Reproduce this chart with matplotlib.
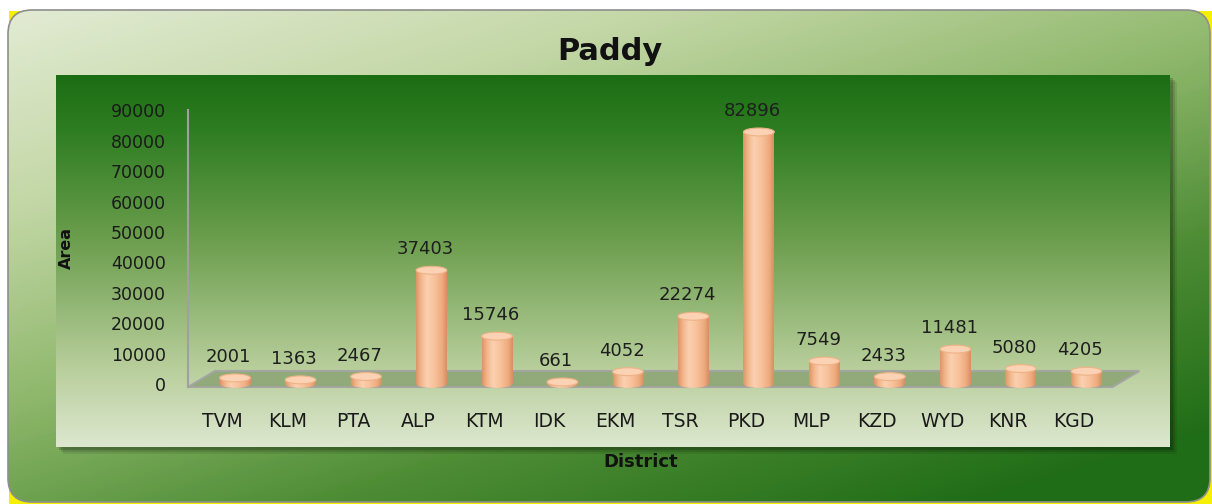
import numpy as np
import matplotlib
matplotlib.use("Agg")
import matplotlib.pyplot as plt
from matplotlib.patches import Rectangle, FancyBboxPatch, Ellipse, Polygon
from matplotlib.colors import LinearSegmentedColormap
from matplotlib.transforms import ScaledTranslation

# --- data ---
districts = ["TVM", "KLM", "PTA", "ALP", "KTM", "IDK", "EKM",
             "TSR", "PKD", "MLP", "KZD", "WYD", "KNR", "KGD"]
area = [2001, 1363, 2467, 37403, 15746, 661, 4052,
        22274, 82896, 7549, 2433, 11481, 5080, 4205]
yticks = [0, 10000, 20000, 30000, 40000, 50000, 60000, 70000, 80000, 90000]

plt.rcParams["font.family"] = ["DejaVu Sans"]

W, H = 1212, 504
fig = plt.figure(figsize=(W / 100, H / 100), dpi=100, facecolor="white")

# --- background (pixel coords, y down) ---
bg = fig.add_axes([0, 0, 1, 1])
bg.set_xlim(0, W)
bg.set_ylim(H, 0)
bg.axis("off")

bg.add_patch(Rectangle((8.5, 10.5), W - 8.5, H - 10.5, color="#f5f000", lw=0, zorder=0))
frame = FancyBboxPatch((8, 10), 1202, 492, boxstyle="round,pad=0,rounding_size=24",
                       facecolor="none", edgecolor="#8e8e8e", lw=1.2, zorder=2)
bg.add_patch(frame)

outer_cmap = LinearSegmentedColormap.from_list(
    "outer", ["#e2ebd3", "#c3d7a6", "#8fb86c", "#4d8c34", "#206d17"])
gx, gy = np.meshgrid(np.linspace(0, 1, 300), np.linspace(0, 1, 150))
outer = np.clip(0.55 * gx + 0.75 * gy, 0, 1.2) / 1.2
im = bg.imshow(outer, cmap=outer_cmap, extent=(8, 1210, 502, 10), origin="upper",
               aspect="auto", zorder=1, interpolation="bilinear")
im.set_clip_path(frame)

# panel shadow
for k, a in zip([7, 5, 3], [0.08, 0.12, 0.18]):
    bg.add_patch(Rectangle((56 + k, 75 + k), 1114, 372, color="black", alpha=a,
                           lw=0, zorder=3))

panel_cmap = LinearSegmentedColormap.from_list(
    "panel", [(0, "#1b6d14"), (0.15, "#2f7d22"), (0.45, "#6d9f4f"),
              (0.78, "#b6cd99"), (1, "#dde7cf")])
pgrad = np.linspace(0, 1, 256).reshape(-1, 1)
bg.imshow(pgrad, cmap=panel_cmap, extent=(56, 1170, 447, 75), origin="upper",
          aspect="auto", zorder=4, interpolation="bilinear")
bg.set_xlim(0, W)
bg.set_ylim(H, 0)

# --- main axes ---
x0, x1 = -0.718, 13.82
y0, y1 = -5000, 92000
ax = fig.add_axes([188 / W, (H - 399.2) / H, 952 / W, 294.9 / H])
ax.set_facecolor("none")
ax.set_xlim(x0, x1)
ax.set_ylim(y0, y1)
x = np.arange(len(districts))

# floor
dx, front, back = 0.41, -990, 4280
floor = Polygon([(x0, front), (13.40, front), (13.40 + dx, back), (x0 + dx, back)],
                closed=True, facecolor="#8ea676", edgecolor="#a3a3a3", lw=1.5,
                alpha=0.9, zorder=1)
ax.add_patch(floor)

cyl = LinearSegmentedColormap.from_list(
    "cyl", [(0, "#dc9566"), (0.15, "#f1b58a"), (0.35, "#fbd0b0"),
            (0.6, "#f8c29c"), (0.85, "#eeab7f"), (1, "#d88f60")])
grad = np.linspace(0, 1, 64).reshape(1, -1)
bw = 0.47
eh = 2600

bars = ax.bar(x, area, width=bw, color="#f3b98e", lw=0, zorder=3)
for b in bars:
    bx, w, h = b.get_x(), b.get_width(), b.get_height()
    cx = bx + w / 2
    body = ax.imshow(grad, cmap=cyl, extent=(bx, bx + w, 0, h), origin="lower",
                     aspect="auto", zorder=3.1, interpolation="bilinear")
    body.set_clip_path(b)
    base = Ellipse((cx, 0), w, eh, facecolor="none", lw=0, zorder=2.9)
    ax.add_patch(base)
    bim = ax.imshow(grad, cmap=cyl, extent=(bx, bx + w, -eh / 2, eh / 2),
                    origin="lower", aspect="auto", zorder=2.9, interpolation="bilinear")
    bim.set_clip_path(base)
    ax.add_patch(Ellipse((cx, h), w, eh, facecolor="#fbd2b3", edgecolor="#eeb286",
                         lw=0.8, zorder=4))
    ax.annotate(f"{int(h)}", (cx, h), xytext=(-4.5, 15), textcoords="offset points",
                ha="center", va="center", fontsize=13, color="#1e1e1e", zorder=5)

ax.set_xlim(x0, x1)
ax.set_ylim(y0, y1)

ax.set_yticks(yticks)
ax.set_yticklabels([str(t) for t in yticks])
ax.set_xticks(x)
ax.set_xticklabels(districts)
ax.tick_params(axis="y", length=0, pad=16, labelsize=12.5, labelcolor="#1a1a1a")
ax.tick_params(axis="x", length=0, pad=9, labelsize=13.5, labelcolor="#1a1a1a")
shift = ScaledTranslation(-13 / 100, 0, fig.dpi_scale_trans)
for lab in ax.get_xticklabels():
    lab.set_transform(lab.get_transform() + shift)

for s in ["top", "right", "bottom"]:
    ax.spines[s].set_visible(False)
ax.spines["left"].set_color("#a0a0a0")
ax.spines["left"].set_linewidth(1.5)
ax.spines["left"].set_bounds(front, 90000)

ax.set_ylabel("Area", fontsize=11.5, fontweight="bold", color="#111111")
ax.yaxis.set_label_coords(-0.12, 0.513)
ax.set_xlabel("District", fontsize=13, fontweight="bold", color="#111111")
ax.xaxis.set_label_coords(0.475, -0.182)

fig.text(610 / W, 1 - 52 / H, "Paddy", ha="center", va="center",
         fontsize=22, fontweight="bold", color="#111111")

fig.savefig("out.png", dpi=100, facecolor="white")
